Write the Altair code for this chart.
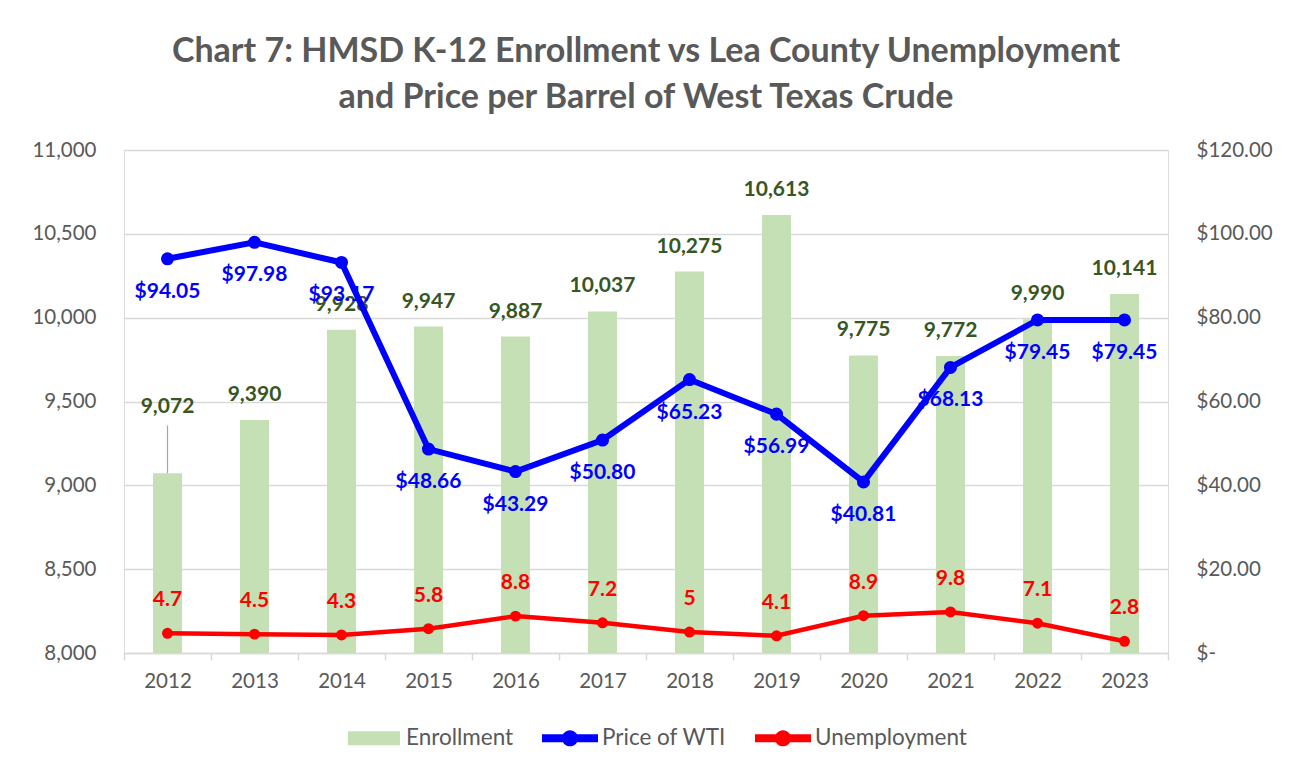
import altair as alt
import pandas as pd

years = ["2012", "2013", "2014", "2015", "2016", "2017", "2018", "2019", "2020", "2021", "2022", "2023"]
enrollment = [9072, 9390, 9928, 9947, 9887, 10037, 10275, 10613, 9775, 9772, 9990, 10141]
wti_price = [94.05, 97.98, 93.17, 48.66, 43.29, 50.80, 65.23, 56.99, 40.81, 68.13, 79.45, 79.45]
unemployment = [4.7, 4.5, 4.3, 5.8, 8.8, 7.2, 5.0, 4.1, 8.9, 9.8, 7.1, 2.8]

series_names = ["Enrollment", "Price of WTI", "Unemployment"]
series_colors = ["#C5E0B4", "#0000FF", "#FF0000"]

FONT = "Lato"
GRAY = "#595959"
GRID = "#D9D9D9"
GREEN_TXT = "#375623"
AX_FS = 20.5
LBL_FS = 21

df = pd.DataFrame({"year": years, "enroll": enrollment, "wti": wti_price, "unemp": unemployment})
long_rows = []
for y, w, u in zip(years, wti_price, unemployment):
    long_rows.append({"year": y, "series": "Price of WTI", "val": w})
    long_rows.append({"year": y, "series": "Unemployment", "val": u})
ldf = pd.DataFrame(long_rows)
legend_df = pd.DataFrame({"series": series_names})

x_enc = alt.X(
    "year:N",
    sort=years,
    scale=alt.Scale(paddingInner=0, paddingOuter=0),
    axis=alt.Axis(
        title=None, labelAngle=0, tickBand="extent", domainColor=GRID, tickColor=GRID,
        domainWidth=1.5, tickWidth=1.5,
        tickSize=7, labelPadding=11, labelFontSize=AX_FS, labelColor=GRAY, labelFont=FONT,
        grid=False,
    ),
)

y_left = alt.Y(
    "enroll:Q",
    scale=alt.Scale(domain=[8000, 11000], nice=False, zero=False),
    axis=alt.Axis(
        title=None, values=[8000, 8500, 9000, 9500, 10000, 10500, 11000],
        labelExpr="format(datum.value, ',')",
        grid=True, gridColor=GRID, gridWidth=1.5, domain=False, ticks=False, labelPadding=28,
        labelFontSize=AX_FS, labelColor=GRAY, labelFont=FONT,
    ),
)

base = alt.Chart(df)
bars = base.mark_bar(size=29, color="#C5E0B4").encode(x=x_enc, y=y_left, y2=alt.datum(8000))
bar_labels = base.transform_filter(alt.datum.year != "2012").mark_text(
    dy=-25, fontSize=LBL_FS, fontWeight="bold", font=FONT, color=GREEN_TXT
).encode(x=x_enc, y=y_left, text=alt.Text("enroll:Q", format=","))
first_label = base.transform_filter(alt.datum.year == "2012").mark_text(
    dy=-66, fontSize=LBL_FS, fontWeight="bold", font=FONT, color=GREEN_TXT
).encode(x=x_enc, y=y_left, text=alt.Text("enroll:Q", format=","))
leader = base.transform_filter(alt.datum.year == "2012").transform_calculate(
    top="datum.enroll + 285"
).mark_rule(color="#A6A6A6", strokeWidth=1.2).encode(x=x_enc, y=y_left, y2="top:Q")

left = alt.layer(bars, bar_labels, first_label, leader)

y_right = alt.Y(
    "val:Q",
    scale=alt.Scale(domain=[0, 120], nice=False),
    axis=alt.Axis(
        title=None, orient="right", values=[0, 20, 40, 60, 80, 100, 120],
        labelExpr="datum.value == 0 ? '$-' : '$' + format(datum.value, '.2f')",
        grid=False, domain=False, ticks=False, labelPadding=28,
        labelFontSize=AX_FS, labelColor=GRAY, labelFont=FONT,
    ),
)

lbase = alt.Chart(ldf)
wti_line = lbase.transform_filter(alt.datum.series == "Price of WTI").mark_line(
    color="#0000FF", strokeWidth=6,
    point=alt.OverlayMarkDef(color="#0000FF", filled=True, size=170, opacity=1),
).encode(x=x_enc, y=y_right)
wti_labels = lbase.transform_filter(alt.datum.series == "Price of WTI").mark_text(
    dy=33, fontSize=LBL_FS, fontWeight="bold", font=FONT, color="#0000FF"
).encode(x=x_enc, y=y_right, text=alt.Text("val:Q", format="$.2f"))
un_line = lbase.transform_filter(alt.datum.series == "Unemployment").mark_line(
    color="#FF0000", strokeWidth=4.5,
    point=alt.OverlayMarkDef(color="#FF0000", filled=True, size=120, opacity=1),
).encode(x=x_enc, y=y_right)
un_labels = lbase.transform_filter(alt.datum.series == "Unemployment").mark_text(
    dy=-33, fontSize=LBL_FS, fontWeight="bold", font=FONT, color="#FF0000"
).encode(x=x_enc, y=y_right, text=alt.Text("val:Q", format="~g"))

rect_path = "M-0.93,-0.25 L0.93,-0.25 L0.93,0.25 L-0.93,0.25 Z"
line_pt_path = ("M-1,-0.14 L1,-0.14 L1,0.14 L-1,0.14 Z "
                "M-0.29,0 A0.29,0.29 0 1,1 0.29,0 A0.29,0.29 0 1,1 -0.29,0 Z")

legend_spec = alt.Legend(
    title=None, orient="none", direction="horizontal", legendX=222, legendY=560,
    symbolSize=3136, symbolOpacity=1, symbolStrokeWidth=0, labelFontSize=22.5,
    labelColor=GRAY, labelFont=FONT, columnPadding=28, labelOffset=4,
)
legend_layer = alt.Chart(legend_df).mark_point(opacity=0, filled=True).encode(
    x=alt.value(0), y=alt.value(0),
    color=alt.Color("series:N", scale=alt.Scale(domain=series_names, range=series_colors), legend=legend_spec),
    shape=alt.Shape("series:N", scale=alt.Scale(domain=series_names, range=[rect_path, line_pt_path, line_pt_path]), legend=legend_spec),
)

right = alt.layer(wti_line, un_line, wti_labels, un_labels, legend_layer)

chart = alt.layer(left, right).resolve_scale(y="independent").properties(
    width=1044, height=503,
    autosize=alt.AutoSizeParams(type="none"),
    padding={"left": 116, "top": 142, "right": 123, "bottom": 112},
    title=alt.Title(
        ["Chart 7: HMSD K-12 Enrollment vs Lea County Unemployment",
         "and Price per Barrel of West Texas Crude"],
        font=FONT, fontSize=34, fontWeight="bold", color=GRAY, anchor="middle",
        lineHeight=46, offset=25,
    ),
).configure_view(stroke=None).configure(background="white")

chart.save("out.html", embed_options={"renderer": "svg", "actions": False})
